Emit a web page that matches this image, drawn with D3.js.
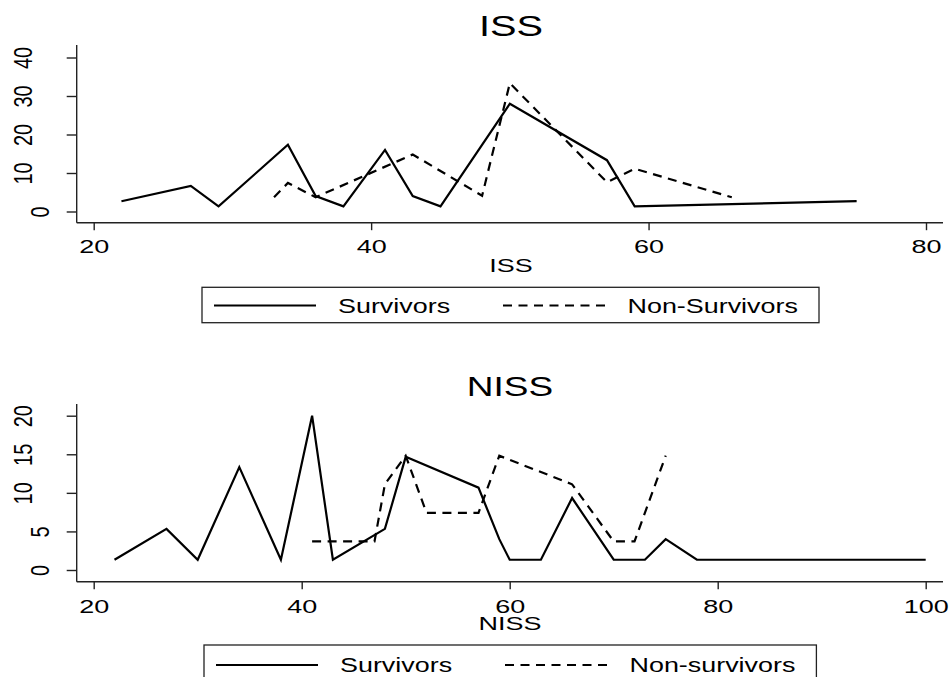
<!DOCTYPE html>
<html>
<head>
<meta charset="utf-8">
<script src="https://cdn.jsdelivr.net/npm/d3@7"></script>
<style>
  html, body { margin: 0; padding: 0; background: #fff; }
  svg { display: block; }
</style>
</head>
<body>
<svg id="chart" width="950" height="677"></svg>
<script>
// ---- ISS panel: percentage of patients at each ISS score ----
const issTitle = "ISS";
const issAxisTitle = "ISS";
const issTicksX = [20, 40, 60, 80];
const issTicksY = [0, 10, 20, 30, 40];
const issSurvivorsX   = [22, 27, 29, 34, 36, 38, 41, 43, 45, 50, 57, 59, 75];
const issSurvivorsPct = [2.67, 6.67, 1.33, 17.33, 4, 1.33, 16, 4, 1.33, 28, 13.33, 1.33, 2.67];
const issNonSurvivorsX   = [33, 34, 36, 43, 48, 50, 57, 59, 66];
const issNonSurvivorsPct = [3.7, 7.41, 3.7, 14.81, 4.1, 33.33, 7.6, 11.11, 3.7];
const issLegend = ["Survivors", "Non-Survivors"];

// ---- NISS panel: percentage of patients at each NISS score ----
const nissTitle = "NISS";
const nissAxisTitle = "NISS";
const nissTicksX = [20, 40, 60, 80, 100];
const nissTicksY = [0, 5, 10, 15, 20];
const nissSurvivorsX   = [22, 27, 30, 34, 38, 41, 43, 48, 50, 57, 59, 60, 63, 66, 70, 73, 75, 78, 100];
const nissSurvivorsPct = [1.33, 5.33, 1.33, 13.33, 1.33, 20, 1.33, 5.33, 14.67, 10.67, 4, 1.33, 1.33, 9.33, 1.33, 1.33, 4, 1.33, 1.33];
const nissNonSurvivorsX   = [41, 47, 48, 50, 52, 57, 59, 66, 70, 72, 75];
const nissNonSurvivorsPct = [3.7, 3.7, 11.11, 14.81, 7.41, 7.41, 14.81, 11.11, 3.7, 3.7, 14.81];
const nissLegend = ["Survivors", "Non-survivors"];

const FONT = "'Liberation Sans', Arial, Helvetica, sans-serif";
const DASH = "9,6.5";
const svg = d3.select("#chart");

// Text whose glyphs are widened horizontally by sx
function wideText(parent, str, x, y, size, sx, anchor) {
  return parent.append("text")
    .attr("transform", `translate(${x},${y}) scale(${sx},1)`)
    .attr("text-anchor", anchor || "middle")
    .attr("font-family", FONT)
    .attr("font-size", size)
    .attr("fill", "#000")
    .text(str);
}

function drawPanel(p) {
  const g = svg.append("g");
  const x = d3.scaleLinear().domain(p.xDomain).range([93.7, p.xRight]);
  const y = d3.scaleLinear().domain(p.yDomain).range([p.y0, p.yTop]);

  // axis lines
  g.append("line").attr("x1", 76.7).attr("x2", 76.7)
    .attr("y1", p.axisTop).attr("y2", p.axisY)
    .attr("stroke", "#222").attr("stroke-width", 1.4);
  g.append("line").attr("x1", 76.7).attr("x2", 943)
    .attr("y1", p.axisY).attr("y2", p.axisY)
    .attr("stroke", "#222").attr("stroke-width", 1.4);

  // x axis ticks and labels
  const xa = g.append("g")
    .attr("transform", `translate(0,${p.axisY})`)
    .call(d3.axisBottom(x).tickValues(p.xTicks).tickSize(7.5).tickSizeOuter(0));
  xa.select(".domain").remove();
  xa.attr("font-family", FONT).attr("font-size", 18);
  xa.selectAll(".tick line").attr("stroke", "#222").attr("stroke-width", 1.4);
  xa.selectAll(".tick text")
    .attr("y", null).attr("dy", null).attr("fill", "#000")
    .attr("transform", `translate(0,${p.xLabelOffset}) scale(1.5,1)`);

  // y axis ticks and rotated labels
  const ya = g.append("g")
    .attr("transform", "translate(76.7,0)")
    .call(d3.axisLeft(y).tickValues(p.yTicks).tickSize(10).tickSizeOuter(0));
  ya.select(".domain").remove();
  ya.attr("font-family", FONT).attr("font-size", 20);
  ya.selectAll(".tick line").attr("stroke", "#222").attr("stroke-width", 1.4);
  ya.selectAll(".tick text")
    .attr("x", null).attr("dy", null).attr("fill", "#000")
    .attr("text-anchor", "middle")
    .attr("transform", d => `translate(${String(d).length > 1 ? -45 : -28},0) rotate(-90) scale(1,1.25)`);

  // series lines
  const line = d3.line().x(d => x(d[0])).y(d => y(d[1]));
  const surv = d3.zip(p.survX, p.survY);
  const non = d3.zip(p.nonX, p.nonY);
  g.append("path").datum(surv).attr("d", line)
    .attr("fill", "none").attr("stroke", "#000").attr("stroke-width", 2.2)
    .attr("stroke-linejoin", "miter");
  g.append("path").datum(non).attr("d", line)
    .attr("fill", "none").attr("stroke", "#000").attr("stroke-width", 2.2)
    .attr("stroke-dasharray", DASH);

  // titles
  wideText(g, p.title, p.titleX, p.titleY, p.titleSize, 1.37);
  wideText(g, p.axisTitle, p.axisTitleX, p.axisTitleY, 19, 1.42);

  // legend
  const L = p.legend;
  g.append("rect").attr("x", L.x).attr("y", L.y).attr("width", L.w).attr("height", 35.4)
    .attr("fill", "#fff").attr("stroke", "#222").attr("stroke-width", 1.3);
  g.append("line").attr("x1", L.x + 12).attr("x2", L.x + 114)
    .attr("y1", L.lineY).attr("y2", L.lineY)
    .attr("stroke", "#000").attr("stroke-width", 2.2);
  g.append("line").attr("x1", L.x + 301).attr("x2", L.x + 404)
    .attr("y1", L.lineY).attr("y2", L.lineY)
    .attr("stroke", "#000").attr("stroke-width", 2.2).attr("stroke-dasharray", DASH);
  wideText(g, p.legendLabels[0], L.x + 136, L.textY, 19.5, 1.38, "start");
  wideText(g, p.legendLabels[1], L.x + 425.5, L.textY, 19.5, 1.38, "start");
}

drawPanel({
  xDomain: [20, 80], xRight: 926, yDomain: [0, 40], y0: 211.5, yTop: 57.5,
  axisTop: 45, axisY: 222.7, xLabelOffset: 30.6,
  xTicks: issTicksX, yTicks: issTicksY,
  survX: issSurvivorsX, survY: issSurvivorsPct,
  nonX: issNonSurvivorsX, nonY: issNonSurvivorsPct,
  title: issTitle, titleX: 511, titleY: 36, titleSize: 29,
  axisTitle: issAxisTitle, axisTitleX: 511, axisTitleY: 271.7,
  legend: { x: 202, y: 287.3, w: 617, lineY: 305.5, textY: 313.3 },
  legendLabels: issLegend
});

drawPanel({
  xDomain: [20, 100], xRight: 925.7, yDomain: [0, 20], y0: 570, yTop: 415.7,
  axisTop: 404, axisY: 581.7, xLabelOffset: 31,
  xTicks: nissTicksX, yTicks: nissTicksY,
  survX: nissSurvivorsX, survY: nissSurvivorsPct,
  nonX: nissNonSurvivorsX, nonY: nissNonSurvivorsPct,
  title: nissTitle, titleX: 510, titleY: 396, titleSize: 27,
  axisTitle: nissAxisTitle, axisTitleX: 510, axisTitleY: 630,
  legend: { x: 204, y: 645, w: 612.4, lineY: 665, textY: 671.7 },
  legendLabels: nissLegend
});
</script>
</body>
</html>
